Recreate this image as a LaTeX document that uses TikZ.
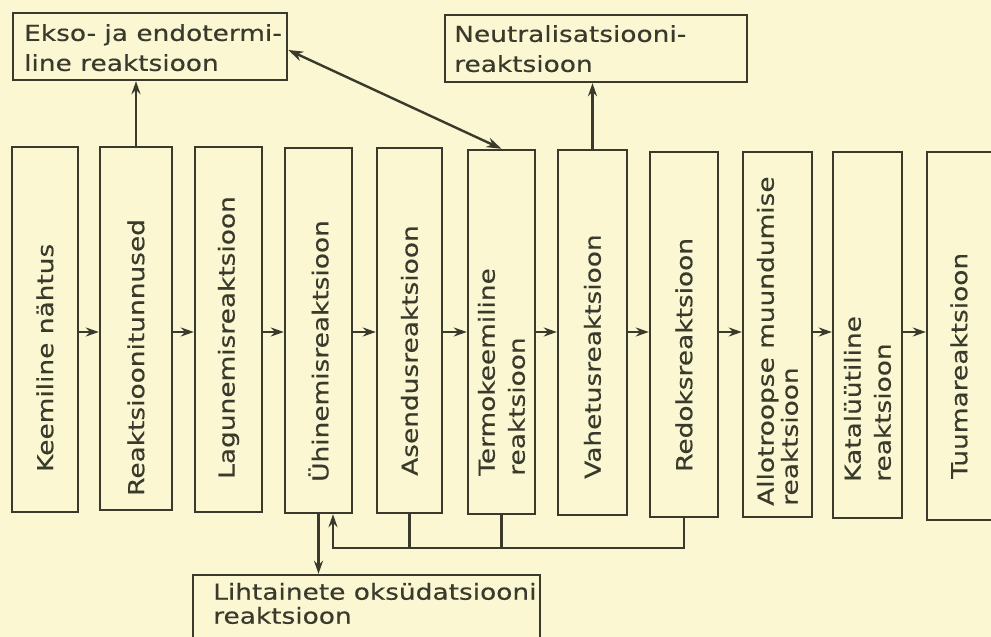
\documentclass[tikz,border=0pt]{standalone}
\usepackage{fontspec}
\usetikzlibrary{arrows.meta,calc}
\newfontfamily\lab[FakeStretch=1.2,FakeBold=0.4]{DejaVu Sans}
\definecolor{paper}{HTML}{FAF7D2}
\definecolor{ink}{HTML}{3A3A2C}
\begin{document}
\begin{tikzpicture}[x=1pt,y=-1pt,
  line width=2.4pt, color=ink,
  box/.style={draw=ink, line width=2.4pt, rectangle, inner sep=0pt},
  lab/.style={font=\lab\fontsize{22}{30}\selectfont, text=ink, inner sep=0pt, align=left},
  vlab/.style={lab, rotate=90, anchor=west},
  hlab/.style={lab, anchor=west},
  arr/.style={draw=ink, line width=2.4pt, -{Stealth[length=13pt,width=9pt]}},
  darr/.style={draw=ink, line width=2.4pt, {Stealth[length=15pt,width=10pt]}-{Stealth[length=15pt,width=10pt]}},
  ln/.style={draw=ink, line width=2.4pt}]
\useasboundingbox (0,0) rectangle (991,637);
\fill[paper] (0,0) rectangle (991,637);
\clip (0,0) rectangle (991,637);

% column boxes
\node[box, minimum width=66pt, minimum height=365pt] (b1) at (45,329.5) {};
\node[box, minimum width=72pt, minimum height=363pt] (b2) at (136,328.5) {};
\node[box, minimum width=67pt, minimum height=365pt] (b3) at (228.5,329.5) {};
\node[box, minimum width=67pt, minimum height=365pt] (b4) at (318.5,330.5) {};
\node[box, minimum width=65pt, minimum height=365pt] (b5) at (409.5,330.5) {};
\node[box, minimum width=67pt, minimum height=364pt] (b6) at (501.5,332) {};
\node[box, minimum width=69pt, minimum height=365pt] (b7) at (592.5,332.5) {};
\node[box, minimum width=68pt, minimum height=365pt] (b8) at (684,334.5) {};
\node[box, minimum width=69pt, minimum height=365pt] (b9) at (777.5,334.5) {};
\node[box, minimum width=69pt, minimum height=366pt] (b10) at (867.5,335) {};
\node[box, minimum width=69pt, minimum height=368pt] (b11) at (961.5,336) {};

% column labels
\node[vlab] (l1) at (45,473) {Keemiline nähtus};
\node[vlab] (l2) at (136,497) {Reaktsioonitunnused};
\node[vlab] (l3) at (228.5,480) {Lagunemisreaktsioon};
\node[vlab] (l4) at (318.5,483) {Ühinemisreaktsioon};
\node[vlab] (l5) at (409.5,477) {Asendusreaktsioon};
\node[vlab] (l6) at (501.5,477) {Termokeemiline\\reaktsioon};
\node[vlab] (l7) at (592.5,480) {Vahetusreaktsioon};
\node[vlab] (l8) at (684,473) {Redoksreaktsioon};
\node[vlab] (l9) at (777.5,507) {Allotroopse muundumise\\[-6pt]reaktsioon};
\node[vlab] (l10) at (867.5,483) {Katalüütiline\\reaktsioon};
\node[vlab] (l11) at (959,480) {Tuumareaktsioon};

% top and bottom boxes
\node[box, minimum width=274pt, minimum height=67pt] (A) at (150,46.5) {};
\node[box, minimum width=302pt, minimum height=67pt] (B) at (596,48.5) {};
\node[box, minimum width=347pt, minimum height=70pt] (C) at (366.5,610) {};
\node[hlab] (la) at (23,47.7) {Ekso- ja endotermi-\\line reaktsioon};
\node[hlab] (lb) at (453,48.7) {Neutralisatsiooni-\\reaktsioon};
\node[hlab] (lc) at (212,603.5) {Lihtainete oksüdatsiooni\\[-6pt]reaktsioon};

% chain arrows
\coordinate (m) at (0,332);
\foreach \i/\j in {b1/b2,b2/b3,b3/b4,b4/b5,b5/b6,b6/b7,b7/b8,b8/b9,b9/b10,b10/b11}
  \draw[arr] (\i.east |- m) -- (\j.west |- m);

% upward arrows
\draw[arr] (b2.north) -- (b2.north |- A.south);
\draw[arr] (b7.north) -- (b7.north |- B.south);
\coordinate (ae) at ($(A.north east)!0.55!(A.south east)$);
\draw[darr] (ae) -- (b6.north);

% bottom connections
\draw[arr] (b4.south) -- (b4.south |- C.north);
\coordinate (fb) at (333,548);
\draw[arr] (b8.south) |- (fb) -- (fb |- b4.south);
\draw[ln] (b5.south) -- (b5.south |- fb);
\draw[ln] (b6.south) -- (b6.south |- fb);
\end{tikzpicture}
\end{document}
